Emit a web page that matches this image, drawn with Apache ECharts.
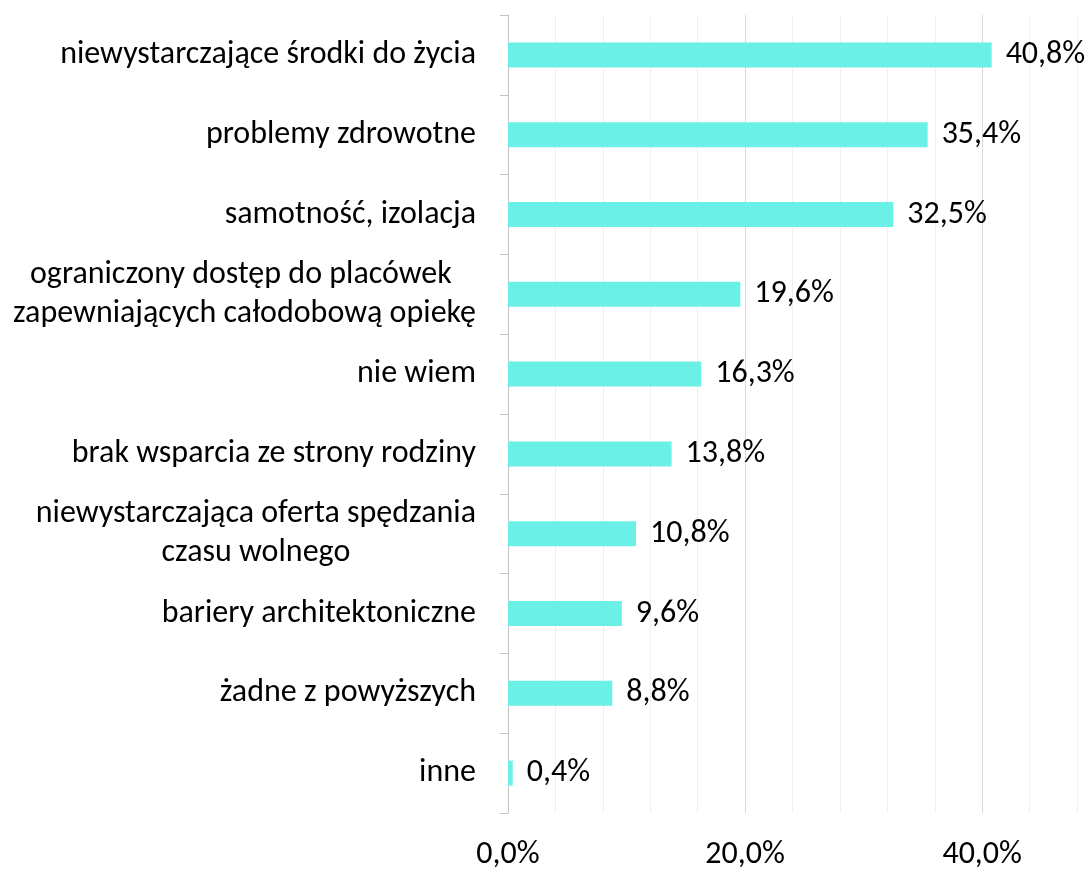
<!DOCTYPE html>
<html>
<head>
<meta charset="utf-8">
<script src="https://cdn.jsdelivr.net/npm/echarts@6/dist/echarts.min.js"></script>
<style>
  html, body { margin: 0; padding: 0; background: #fff; }
  #chart { width: 1088px; height: 871px; }
</style>
</head>
<body>
<div id="chart"></div>
<script>
// categories, top to bottom
const categories = [
  'niewystarczające środki do życia',
  'problemy zdrowotne',
  'samotność, izolacja',
  'ograniczony dostęp do placówek \nzapewniających całodobową opiekę',
  'nie wiem',
  'brak wsparcia ze strony rodziny',
  'niewystarczająca oferta spędzania\nczasu wolnego',
  'bariery architektoniczne',
  'żadne z powyższych',
  'inne'
];
const values = [40.8, 35.4, 32.5, 19.6, 16.3, 13.8, 10.8, 9.6, 8.8, 0.4];
const xTickLabels = [0, 20, 40];

const fmt = (v, d) => v.toFixed(d).replace('.', ',') + '%';

const chart = echarts.init(document.getElementById('chart'));

// Major gridlines every 20 %, minor every 4 %
const gridColors = ['#d9d9d9', '#efefef', '#efefef', '#efefef', '#efefef'];

chart.setOption({
  animation: false,
  textStyle: { fontFamily: 'Carlito, Lato, sans-serif' },
  grid: { left: 508, right: 11, top: 15, bottom: 56 },
  xAxis: {
    type: 'value',
    min: 0,
    max: 48,
    interval: 4,
    axisLine: { show: false },
    axisTick: { show: false },
    axisLabel: {
      margin: 26,
      fontSize: 32,
      color: '#000',
      formatter: v => (xTickLabels.includes(v) ? fmt(v, 1) : '')
    },
    splitLine: { show: true, lineStyle: { color: gridColors, width: 1 } }
  },
  yAxis: {
    type: 'category',
    inverse: true,
    data: categories,
    axisLine: { show: true, lineStyle: { color: '#c4c4c4', width: 1 } },
    axisTick: { show: true, length: 8, lineStyle: { color: '#c4c4c4' } },
    axisLabel: {
      margin: 32,
      fontSize: 32,
      color: '#000',
      lineHeight: 39,
      formatter: v => v.split('\n').map(s => '{c|' + s + '}').join('\n'),
      rich: { c: { align: 'center', fontSize: 32, lineHeight: 39, color: '#000' } }
    }
  },
  series: [{
    type: 'bar',
    data: values,
    barWidth: 25,
    itemStyle: { color: '#6af0e6' },
    label: {
      show: true,
      position: 'right',
      distance: 14,
      fontSize: 32,
      color: '#000',
      formatter: p => fmt(p.value, 1)
    }
  }]
});
</script>
</body>
</html>
